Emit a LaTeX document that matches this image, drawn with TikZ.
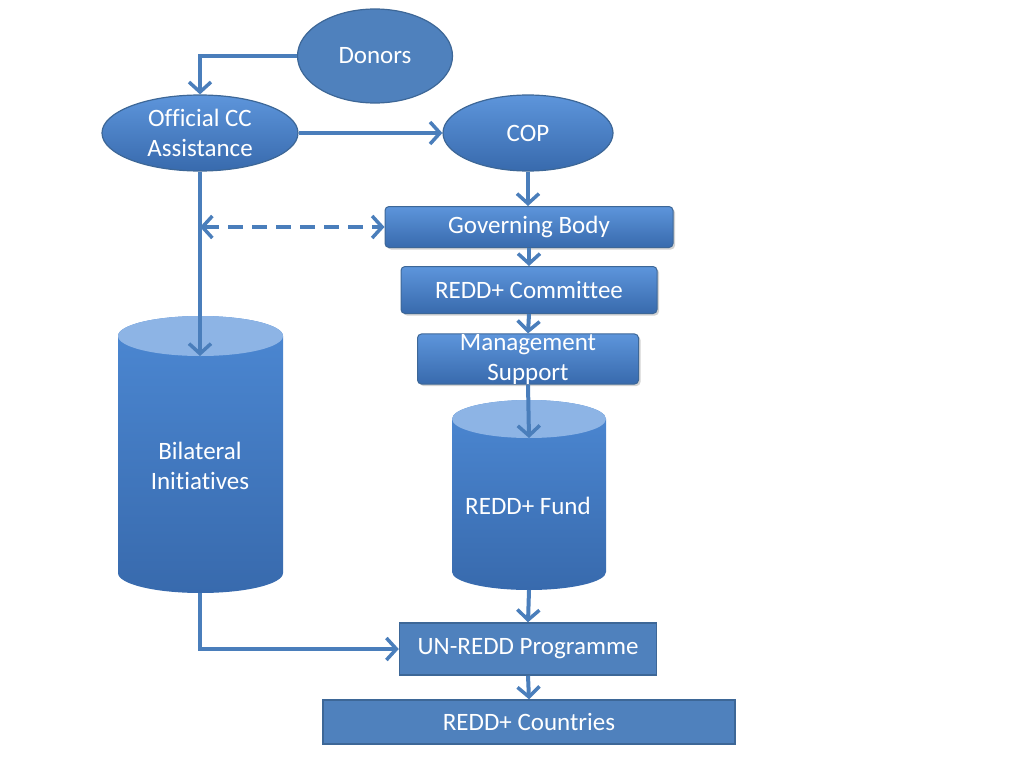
\documentclass[tikz,border=0pt]{standalone}
\usepackage{fontspec}
\setmainfont{Carlito}[Ligatures=NoCommon]
\usetikzlibrary{shapes.geometric,arrows.meta,shadows}

\definecolor{boxblue}{HTML}{4F81BD}
\definecolor{edgeblue}{HTML}{3D6797}
\definecolor{lineblue}{HTML}{4A7EBB}
\definecolor{topblue}{HTML}{5D95DB}
\definecolor{lowblue}{HTML}{386AAD}
\definecolor{drumtop}{HTML}{4C88D3}
\definecolor{capblue}{HTML}{8DB4E5}

\tikzset{
  oval/.style={ellipse, draw=edgeblue, line width=1.2pt, inner sep=0pt, text=white, align=center},
  glossy/.style={top color=topblue, bottom color=lowblue},
  roundbox/.style={rectangle, rounded corners=4pt, draw=edgeblue, line width=1pt, glossy, inner sep=0pt,
    text=white, align=center, drop shadow={shadow xshift=2pt, shadow yshift=-2pt, opacity=0.35}},
  flatbox/.style={rectangle, draw=edgeblue, line width=1.5pt, fill=boxblue, inner sep=0pt, text=white},
  drumtext/.style={text=white, align=center},
  tip/.tip={Straight Barb[length=10pt,width=22pt,line width=3.5pt]},
  flow/.style={draw=lineblue, line width=4pt, -tip}
}

\begin{document}
\begin{tikzpicture}[x=1pt,y=-1pt,font=\fontsize{25}{30}\selectfont]
\useasboundingbox (0,0) rectangle (1024,768);
% top
\node[oval, fill=boxblue, minimum width=155pt, minimum height=94pt] (donors) at (375,56) {Donors};
\node[oval, glossy, minimum width=196pt, minimum height=76pt] (oca) at (200,133) {Official CC\\Assistance};
\node[oval, glossy, minimum width=170pt, minimum height=76pt] (cop) at (528,133) {COP};
% fund chain
\node[roundbox, minimum width=288pt, minimum height=41pt] (gov) at (529,227) {Governing Body};
\node[roundbox, minimum width=256pt, minimum height=47pt] (com) at (529,290) {REDD+ Committee};
\node[roundbox, minimum width=221pt, minimum height=50pt] (mgmt) at (528,359) {Management\\Support};
% cylinders
\shade[top color=drumtop, bottom color=lowblue] (118,336) -- (118,573)
  arc[start angle=180, end angle=360, x radius=82.5pt, y radius=20pt] -- (283,336)
  arc[start angle=0, end angle=180, x radius=82.5pt, y radius=20pt] -- cycle;
\fill[capblue] (200.5,336) ellipse[x radius=82.5pt, y radius=20pt];
\node[drumtext] (bil) at (200,466) {Bilateral\\Initiatives};
\coordinate (biltop) at (200,356);
\coordinate (bilbot) at (200,593);
\shade[top color=drumtop, bottom color=lowblue] (452,419) -- (452,572)
  arc[start angle=180, end angle=360, x radius=77pt, y radius=18pt] -- (606,419)
  arc[start angle=0, end angle=180, x radius=77pt, y radius=19pt] -- cycle;
\fill[capblue] (529,419) ellipse[x radius=77pt, y radius=19pt];
\node[drumtext] (fund) at (528,506) {REDD+ Fund};
\coordinate (fundtop) at (529,438);
\coordinate (fundbot) at (529,590);
% bottom
\node[flatbox, minimum width=257pt, minimum height=52pt] (unredd) at (528,649) {UN-REDD Programme};
\node[flatbox, minimum width=412pt, minimum height=44pt] (ctry) at (529,722) {REDD+ Countries};

\coordinate (tap) at (oca.south |- gov.west);
\draw[flow] (donors.west) -| (oca.north);
\draw[flow] (oca.east) -- (cop.west |- oca.east);
\draw[flow] (oca.south) -- (biltop);
\draw[flow, tip-tip, dash pattern=on 15pt off 9pt] (tap) -- (gov.west);
\draw[flow] (cop.south) -- (cop.south |- gov.north);
\draw[flow] (gov.south) -- (com.north);
\draw[flow] (com.south) -- (mgmt.north);
\draw[flow] (mgmt.south) -- (fundtop);
\draw[flow] (fundbot) -- (unredd.north);
\draw[flow] (bilbot) |- (unredd.west);
\draw[flow] (unredd.south) -- (ctry.north);
\end{tikzpicture}
\end{document}
